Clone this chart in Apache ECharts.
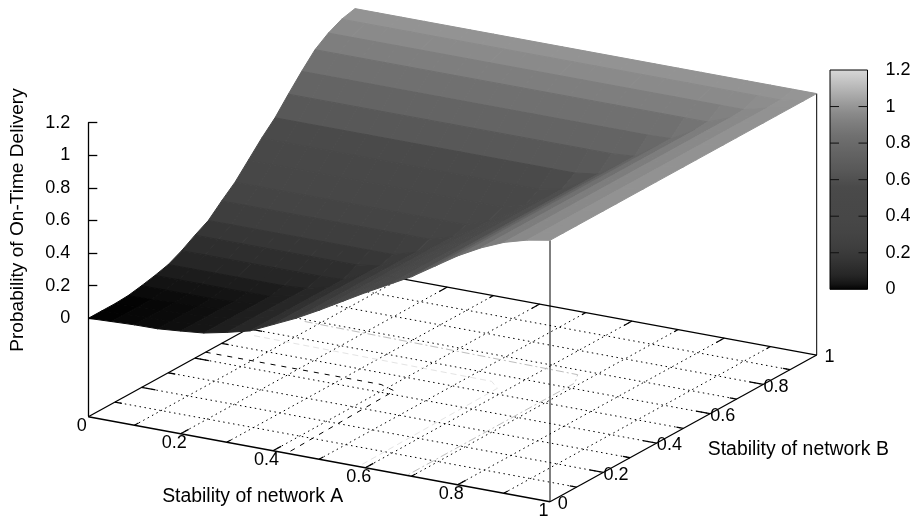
<!DOCTYPE html>
<html><head><meta charset="utf-8">
<style>html,body{margin:0;padding:0;background:#fff}#c{width:915px;height:521px}</style>
<script src="https://cdn.jsdelivr.net/npm/echarts@6/dist/echarts.min.js"></script>
</head><body><div id="c"></div>
<script>
// Surface heights: rows run along B (0..1), columns along A (0..1), step 0.05
const zRow00 = [0,.006,.012,.014,.026,.04,.07,.105,.17,.235,.31,.39,.47,.545,.62,.71,.8,.875,.935,.975,1];
const zRow01 = [0,.006,.012,.014,.026,.04,.07,.105,.17,.235,.31,.39,.47,.545,.62,.71,.8,.875,.935,.975,1];
const zRow02 = [0,.006,.012,.014,.026,.04,.07,.105,.17,.235,.31,.39,.47,.545,.62,.71,.8,.875,.935,.975,1];
const zRow03 = [.005,.006,.012,.014,.026,.04,.07,.105,.17,.235,.31,.39,.47,.545,.62,.71,.8,.875,.935,.975,1];
const zRow04 = [.02,.02,.02,.02,.026,.04,.07,.105,.17,.235,.31,.39,.47,.545,.62,.71,.8,.875,.935,.975,1];
const zRow05 = [.038,.038,.038,.038,.038,.04,.07,.105,.17,.235,.31,.39,.47,.545,.62,.71,.8,.875,.935,.975,1];
const zRow06 = [.06,.06,.06,.06,.06,.06,.07,.105,.17,.235,.31,.39,.47,.545,.62,.71,.8,.875,.935,.975,1];
const zRow07 = [.1,.1,.1,.1,.1,.1,.1,.105,.17,.235,.31,.39,.47,.545,.62,.71,.8,.875,.935,.975,1];
const zRow08 = [.15,.15,.15,.15,.15,.15,.15,.15,.17,.235,.31,.39,.47,.545,.62,.71,.8,.875,.935,.975,1];
const zRow09 = [.195,.195,.195,.195,.195,.195,.195,.195,.195,.235,.31,.39,.47,.545,.62,.71,.8,.875,.935,.975,1];
const zRow10 = [.27,.27,.27,.27,.27,.27,.27,.27,.27,.27,.31,.39,.47,.545,.62,.71,.8,.875,.935,.975,1];
const zRow11 = [.34,.34,.34,.34,.34,.34,.34,.34,.34,.34,.34,.39,.47,.545,.62,.71,.8,.875,.935,.975,1];
const zRow12 = [.43,.43,.43,.43,.43,.43,.43,.43,.43,.43,.43,.43,.47,.545,.62,.71,.8,.875,.935,.975,1];
const zRow13 = [.52,.52,.52,.52,.52,.52,.52,.52,.52,.52,.52,.52,.52,.545,.62,.71,.8,.875,.935,.975,1];
const zRow14 = [.6,.6,.6,.6,.6,.6,.6,.6,.6,.6,.6,.6,.6,.6,.62,.71,.8,.875,.935,.975,1];
const zRow15 = [.7,.7,.7,.7,.7,.7,.7,.7,.7,.7,.7,.7,.7,.7,.7,.71,.8,.875,.935,.975,1];
const zRow16 = [.795,.795,.795,.795,.795,.795,.795,.795,.795,.795,.795,.795,.795,.795,.795,.795,.8,.875,.935,.975,1];
const zRow17 = [.883,.883,.883,.883,.883,.883,.883,.883,.883,.883,.883,.883,.883,.883,.883,.883,.883,.883,.935,.975,1];
const zRow18 = [.94,.94,.94,.94,.94,.94,.94,.94,.94,.94,.94,.94,.94,.94,.94,.94,.94,.94,.94,.975,1];
const zRow19 = [.98,.98,.98,.98,.98,.98,.98,.98,.98,.98,.98,.98,.98,.98,.98,.98,.98,.98,.98,.98,1];
const zRow20 = [1,1,1,1,1,1,1,1,1,1,1,1,1,1,1,1,1,1,1,1,1];
const zRows = [zRow00,zRow01,zRow02,zRow03,zRow04,zRow05,zRow06,zRow07,zRow08,zRow09,zRow10,
               zRow11,zRow12,zRow13,zRow14,zRow15,zRow16,zRow17,zRow18,zRow19,zRow20];

// Palette: height -> gray level
const paletteZ    = [0,.01,.03,.05,.08,.125,.17,.23,.305,.39,.47,.56,.65,.75,.84,.91,.96,1,1.2];
const paletteGray = [0,8,20,28,38,46,54,62,68,71,72,74,88,100,112,126,138,150,216];

const zTicks = [0,.2,.4,.6,.8,1,1.2];
const barTicks = [.2,.4,.6,.8,1];
const floorGrid = [.1,.2,.3,.4,.5,.6,.7,.8,.9];
const floorMinorTicks = [.1,.3,.5,.7,.9];
const floorMajorTicks = [.2,.4,.6,.8];
const floorLabels = [0,.2,.4,.6,.8,1];

// Contours on the floor, as [A, B] points
const contourLow  = [[0,.44],[.38,.44],[.42,.42],[.43,0]];
const contourMid  = [[.03,.57],[.55,.56],[.58,.53],[.585,0]];
const contourHigh = [[.07,.69],[.67,.675],[.69,.63],[.69,0]];

const FONT = '"Liberation Sans", Arial, sans-serif';
// oblique projection of the 3D box onto the page
const ORIGIN = [88.3,318.3], AX = [461.7,85], BX = [266.7,-146.7], ZS = 163, FLOOR = -0.604;
function proj(a,b,z){return [ORIGIN[0]+AX[0]*a+BX[0]*b, ORIGIN[1]+AX[1]*a+BX[1]*b-ZS*z];}
function gray(z){
  let k=0; while(k<paletteZ.length-2 && z>paletteZ[k+1]) k++;
  const t=(z-paletteZ[k])/(paletteZ[k+1]-paletteZ[k]);
  const g=Math.round(paletteGray[k]+t*(paletteGray[k+1]-paletteGray[k]));
  return 'rgb('+g+','+g+','+g+')';
}
function seg(p,q,style){return {type:'line',shape:{x1:p[0],y1:p[1],x2:q[0],y2:q[1]},style:style,silent:true};}

const solid={stroke:'#000',lineWidth:1.3}, thin={stroke:'#000',lineWidth:1};
const dotted={stroke:'#000',lineWidth:1,lineDash:[1.5,3.5]};

function floorChildren(){
  const c=[];
  floorGrid.forEach(v=>{
    c.push(seg(proj(v,0,FLOOR),proj(v,1,FLOOR),dotted));
    c.push(seg(proj(0,v,FLOOR),proj(1,v,FLOOR),dotted));
  });
  const contour=(pts,style)=>({type:'polyline',shape:{points:pts.map(p=>proj(p[0],p[1],FLOOR))},style:Object.assign({fill:null},style),silent:true});
  c.push(contour(contourHigh,{stroke:'#bdbdbd',lineWidth:1,lineDash:[8,3,2,3]}));
  c.push(contour(contourMid,{stroke:'#e4e4e4',lineWidth:1,lineDash:[6,4]}));
  c.push(contour(contourLow,{stroke:'#000',lineWidth:1,lineDash:[5,6]}));
  c.push(seg(proj(0,1,FLOOR),proj(1,1,FLOOR),solid));
  c.push(seg(proj(0,0,FLOOR),proj(0,1,FLOOR),solid));
  c.push(seg(proj(0,0,FLOOR),proj(1,0,FLOOR),solid));
  c.push(seg(proj(1,0,FLOOR),proj(1,1,FLOOR),solid));
  const tick=(v,len)=>{
    c.push(seg(proj(v,0,FLOOR),proj(v,len,FLOOR),solid));
    c.push(seg(proj(v,1,FLOOR),proj(v,1-len,FLOOR),solid));
    c.push(seg(proj(0,v,FLOOR),proj(len,v,FLOOR),solid));
    c.push(seg(proj(1,v,FLOOR),proj(1-len,v,FLOOR),solid));
  };
  floorMajorTicks.forEach(v=>tick(v,.03));
  floorMinorTicks.forEach(v=>tick(v,.015));
  c.push(seg(proj(1,0,FLOOR),proj(1,0,1),thin));
  c.push(seg(proj(1,1,FLOOR),proj(1,1,1),thin));
  floorLabels.forEach(v=>{
    const p=proj(v,0,FLOOR), q=proj(1,v,FLOOR);
    c.push({type:'text',style:{text:String(v),x:p[0]-6.5,y:p[1]+9,align:'center',verticalAlign:'middle',font:'18px '+FONT,fill:'#000'}});
    c.push({type:'text',style:{text:String(v),x:q[0]+12.7,y:q[1]+2.4,align:'center',verticalAlign:'middle',font:'18px '+FONT,fill:'#000'}});
  });
  return c;
}

// back-to-front quad list
const quads=[];
for(let j=zRows.length-2;j>=0;j--) for(let i=0;i<zRows[j].length-1;i++) quads.push([i,j]);

const step=.05;
function quadItem(params){
  const [i,j]=quads[params.dataIndex];
  const z00=zRows[j][i],z10=zRows[j][i+1],z11=zRows[j+1][i+1],z01=zRows[j+1][i];
  const col=gray((z00+z10+z11+z01)/4);
  return {type:'polygon',shape:{points:[proj(i*step,j*step,z00),proj((i+1)*step,j*step,z10),proj((i+1)*step,(j+1)*step,z11),proj(i*step,(j+1)*step,z01)]},
    style:{fill:col,stroke:col,lineWidth:1,lineJoin:'round'},silent:true};
}

const chart=echarts.init(document.getElementById('c'),null,{renderer:'canvas'});
chart.setOption({
  animation:false,backgroundColor:'#fff',
  textStyle:{fontFamily:FONT},
  grid:[
    {left:88.3,top:122.7,width:1,height:293.4,containLabel:false},
    {left:830,top:70,width:37.5,height:219.3,show:false}
  ],
  xAxis:[{gridIndex:0,show:false,type:'value'},{gridIndex:1,show:false,type:'value',min:0,max:1}],
  yAxis:[
    {gridIndex:0,type:'value',min:-.6,max:1.2,interval:.2,position:'left',splitLine:{show:false},
     axisLine:{show:true,onZero:false,lineStyle:{color:'#000',width:1.3}},
     axisTick:{show:true,inside:true,length:9,customValues:zTicks,lineStyle:{color:'#000',width:1.3}},
     axisLabel:{show:true,customValues:zTicks,color:'#000',fontSize:18,fontFamily:FONT,margin:18}},
    {gridIndex:1,type:'value',min:0,max:1.2,interval:.2,position:'right',splitLine:{show:false},
     axisLine:{show:false},axisTick:{show:false},
     axisLabel:{show:true,color:'#000',fontSize:18,fontFamily:FONT,margin:18,customValues:zTicks}}
  ],
  series:[
    {type:'custom',coordinateSystem:'none',z:1,data:[0],renderItem:()=>({type:'group',children:floorChildren()})},
    {type:'custom',coordinateSystem:'none',z:2,data:quads.map(q=>q[0]),renderItem:quadItem},
    {type:'custom',coordinateSystem:'cartesian2d',xAxisIndex:1,yAxisIndex:1,z:3,data:[[0,0]],
     renderItem:(p,api)=>{
       const a=api.coord([0,0]),b=api.coord([1,1.2]);
       const stops=paletteZ.map(z=>({offset:1-z/1.2,color:gray(z)})).reverse();
       const kids=[{type:'rect',shape:{x:a[0],y:b[1],width:b[0]-a[0],height:a[1]-b[1]},
         style:{fill:new echarts.graphic.LinearGradient(0,0,0,1,stops),stroke:'#000',lineWidth:1},silent:true}];
       barTicks.forEach(v=>{
         const y=api.coord([0,v])[1];
         kids.push(seg([a[0],y],[a[0]+9,y],{stroke:'#111',lineWidth:1}));
         kids.push(seg([b[0]-9,y],[b[0],y],{stroke:'#111',lineWidth:1}));
       });
       return {type:'group',children:kids};
     }}
  ],
  graphic:[
    {type:'text',x:252.7,y:496.7,z:10,style:{text:'Stability of network A',align:'center',verticalAlign:'middle',font:'19.4px '+FONT,fill:'#000'}},
    {type:'text',x:798.3,y:450,z:10,style:{text:'Stability of network B',align:'center',verticalAlign:'middle',font:'19.4px '+FONT,fill:'#000'}},
    {type:'text',x:18,y:220,rotation:Math.PI/2,z:10,style:{text:'Probability of On-Time Delivery',align:'center',verticalAlign:'middle',font:'19.1px '+FONT,fill:'#000'}}
  ]
});
</script></body></html>
